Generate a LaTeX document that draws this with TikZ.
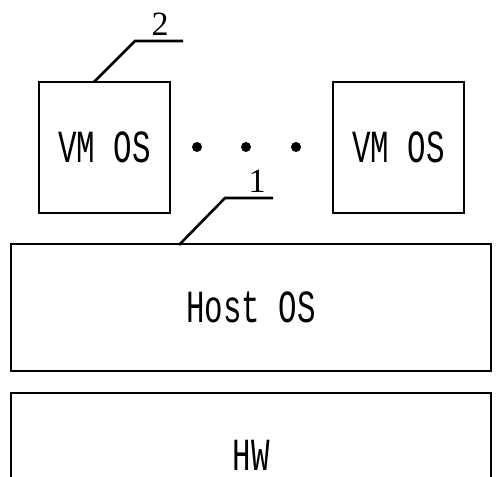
\documentclass[tikz,border=0pt]{standalone}
\usepackage{fontspec}
\newfontfamily\boxfont{Liberation Mono}
\newfontfamily\numfont{Liberation Serif}
\begin{document}
\begin{tikzpicture}[x=1pt,y=-1pt,
  layer/.style={draw, line width=1.2pt, inner sep=0pt, text depth=0pt,
    font=\boxfont\fontsize{46}{46}\selectfont},
  leader/.style={line width=2.6pt},
  numlabel/.style={inner sep=0pt, font=\numfont\fontsize{34}{34}\selectfont},
  dot/.style={circle, fill=black, inner sep=0pt, minimum size=10pt}]
\useasboundingbox (0,0) rectangle (500,476);
\node[layer, minimum width=131pt, minimum height=131pt] (vm1) at (104.5,147.5) {\scalebox{0.67}[1]{VM OS}};
\node[layer, minimum width=131pt, minimum height=131pt] (vm2) at (398.5,147.5) {\scalebox{0.67}[1]{VM OS}};
\node[layer, minimum width=480pt, minimum height=127pt] (host) at (251,307.5) {\scalebox{0.67}[1]{Host OS}};
\node[layer, minimum width=480pt, minimum height=124pt] (hw) at (251,455) {\scalebox{0.67}[1]{HW}};
\node[dot] (d1) at (197,147) {};
\node[dot] (d2) at (246,147) {};
\node[dot] (d3) at (296,147) {};
\coordinate (a2) at (94,82);
\coordinate (b2) at (135,41);
\coordinate (c2) at (183,41);
\draw[leader] (a2) -- (b2) -- (c2);
\node[numlabel] (n2) at (160,24) {2};
\coordinate (a1) at (179,245);
\coordinate (b1) at (225,198);
\coordinate (c1) at (273,198);
\draw[leader] (a1) -- (b1) -- (c1);
\node[numlabel] (n1) at (257,181) {1};
\end{tikzpicture}
\end{document}
